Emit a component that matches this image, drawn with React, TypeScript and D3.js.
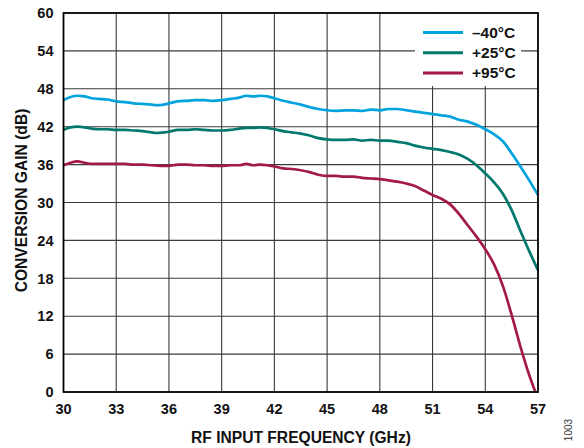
import React from "react";
import * as d3 from "d3";

const xTicks = [30, 33, 36, 39, 42, 45, 48, 51, 54, 57];
const yTicks = [0, 6, 12, 18, 24, 30, 36, 42, 48, 54, 60];

const freqBlue = [30, 30.4, 30.8, 31.2, 31.6, 32, 32.5, 33, 33.5, 34, 34.5, 35, 35.3, 35.7, 36, 36.5, 37, 37.5, 38, 38.5, 39, 39.5, 40, 40.4, 40.8, 41.2, 41.6, 42, 42.5, 43, 43.5, 44, 44.5, 45, 45.5, 46, 46.5, 47, 47.5, 48, 48.5, 49, 49.5, 50, 50.5, 51, 51.5, 52, 52.5, 53, 53.5, 54, 54.5, 55, 55.5, 56, 56.5, 57];
const gainBlue = [46.2, 46.7, 46.9, 46.8, 46.5, 46.4, 46.3, 46.0, 45.9, 45.7, 45.6, 45.5, 45.4, 45.5, 45.7, 46.0, 46.1, 46.2, 46.2, 46.1, 46.2, 46.4, 46.6, 46.9, 46.8, 46.9, 46.8, 46.5, 46.1, 45.8, 45.5, 45.1, 44.8, 44.6, 44.5, 44.6, 44.6, 44.5, 44.7, 44.6, 44.8, 44.8, 44.6, 44.4, 44.2, 44.0, 43.8, 43.6, 43.1, 42.8, 42.3, 41.6, 40.8, 39.7, 37.8, 35.7, 33.5, 31.2];

const freqGreen = [30, 30.4, 30.8, 31.2, 31.6, 32, 32.5, 33, 33.5, 34, 34.5, 35, 35.3, 35.7, 36, 36.5, 37, 37.5, 38, 38.5, 39, 39.5, 40, 40.4, 40.8, 41.2, 41.6, 42, 42.5, 43, 43.5, 44, 44.5, 45, 45.5, 46, 46.5, 47, 47.5, 48, 48.5, 49, 49.5, 50, 50.5, 51, 51.5, 52, 52.5, 53, 53.5, 54, 54.5, 55, 55.5, 56, 56.5, 57];
const gainGreen = [41.5, 41.9, 42.0, 41.9, 41.7, 41.6, 41.6, 41.5, 41.5, 41.4, 41.3, 41.1, 41.0, 41.1, 41.2, 41.5, 41.5, 41.6, 41.5, 41.4, 41.4, 41.5, 41.7, 41.8, 41.8, 41.9, 41.8, 41.6, 41.3, 41.1, 40.9, 40.6, 40.2, 40.0, 39.9, 39.9, 40.0, 39.8, 39.9, 39.8, 39.8, 39.6, 39.4, 39.0, 38.7, 38.5, 38.3, 38.0, 37.6, 36.9, 35.9, 34.6, 33.2, 31.4, 28.8, 25.5, 22.3, 19.3];

const freqRed = [30, 30.4, 30.8, 31.2, 31.6, 32, 32.5, 33, 33.5, 34, 34.5, 35, 35.5, 36, 36.5, 37, 37.5, 38, 38.5, 39, 39.5, 40, 40.4, 40.8, 41.2, 41.6, 42, 42.5, 43, 43.5, 44, 44.5, 45, 45.5, 46, 46.5, 47, 47.5, 48, 48.5, 49, 49.5, 50, 50.5, 51, 51.5, 52, 52.5, 53, 53.5, 54, 54.5, 55, 55.5, 56, 56.5, 56.85];
const gainRed = [35.9, 36.3, 36.5, 36.3, 36.1, 36.1, 36.1, 36.1, 36.1, 36.0, 36.0, 35.9, 35.8, 35.8, 36.0, 36.0, 35.9, 35.9, 35.8, 35.8, 35.9, 35.9, 36.1, 35.9, 36.0, 35.9, 35.7, 35.4, 35.3, 35.1, 34.8, 34.4, 34.2, 34.2, 34.1, 34.1, 33.9, 33.8, 33.7, 33.5, 33.3, 33.0, 32.6, 31.9, 31.2, 30.6, 29.7, 28.2, 26.4, 24.6, 22.6, 20.2, 16.8, 12.2, 7.2, 2.7, 0];

const seriesNames = ["\u201340\u00b0C", "+25\u00b0C", "+95\u00b0C"];
const seriesColors = ["#00a3dd", "#00786d", "#a3194a"];

const W = 584;
const H = 448;
const L = 63.5;
const R = 538;
const T = 13;
const B = 392;

export default function App() {
  const x = d3.scaleLinear().domain([30, 57]).range([L, R]);
  const y = d3.scaleLinear().domain([0, 60]).range([B, T]);
  const line = d3
    .line<[number, number]>()
    .x((d) => x(d[0]))
    .y((d) => y(d[1]))
    .curve(d3.curveMonotoneX);

  const series = [
    d3.zip(freqBlue, gainBlue) as [number, number][],
    d3.zip(freqGreen, gainGreen) as [number, number][],
    d3.zip(freqRed, gainRed) as [number, number][],
  ];

  const font = "'Liberation Sans', Arial, sans-serif";

  return (
    <div style={{ position: "absolute", left: 0, top: 0 }}>
      <svg width={W} height={H} style={{ display: "block", background: "#fff" }}>
        <rect x={0} y={0} width={W} height={H} fill="#fff" />
        {xTicks.slice(1, -1).map((t) => (
          <line key={"gx" + t} x1={x(t)} x2={x(t)} y1={T} y2={B} stroke="#3a3a3a" strokeWidth={1.1} />
        ))}
        {yTicks.slice(1, -1).map((t) => (
          <line key={"gy" + t} x1={L} x2={R} y1={y(t)} y2={y(t)} stroke="#3a3a3a" strokeWidth={1.1} />
        ))}
        <rect x={415} y={T + 1} width={106} height={72} fill="#fff" />
        <defs>
          <clipPath id="plotclip">
            <rect x={L} y={T} width={R - L} height={B - T} />
          </clipPath>
        </defs>
        <g clipPath="url(#plotclip)">
          {series.map((s, i) => (
            <path
              key={"s" + i}
              d={line(s) || ""}
              fill="none"
              stroke={seriesColors[i]}
              strokeWidth={2.7}
              strokeLinejoin="round"
              strokeLinecap="round"
            />
          ))}
        </g>
        <rect x={L} y={T} width={R - L} height={B - T} fill="none" stroke="#000" strokeWidth={1.8} />
        {seriesNames.map((n, i) => (
          <g key={"lg" + i}>
            <line x1={423} x2={463} y1={32.5 + i * 20.2} y2={32.5 + i * 20.2} stroke={seriesColors[i]} strokeWidth={3} />
            <text
              x={472}
              y={32.5 + i * 20.2}
              dy="0.36em"
              fontFamily={font}
              fontWeight="bold"
              fontSize={15.5}
              fill="#111"
            >
              {n}
            </text>
          </g>
        ))}
        {yTicks.map((t) => (
          <text
            key={"yt" + t}
            x={53.5}
            y={y(t)}
            dy="0.36em"
            textAnchor="end"
            fontFamily={font}
            fontWeight="bold"
            fontSize={14.5}
            fill="#111"
          >
            {t}
          </text>
        ))}
        {xTicks.map((t) => (
          <text
            key={"xt" + t}
            x={x(t)}
            y={413.5}
            textAnchor="middle"
            fontFamily={font}
            fontWeight="bold"
            fontSize={14.5}
            fill="#111"
          >
            {t}
          </text>
        ))}
        <text
          x={301}
          y={442.5}
          textAnchor="middle"
          fontFamily={font}
          fontWeight="bold"
          fontSize={15.6}
          fill="#111"
        >
          RF INPUT FREQUENCY (GHz)
        </text>
        <text
          transform={`translate(21,200.5) rotate(-90)`}
          textAnchor="middle"
          dy="0.36em"
          fontFamily={font}
          fontWeight="bold"
          fontSize={15.6}
          fill="#111"
        >
          CONVERSION GAIN (dB)
        </text>
        <text
          transform="translate(568,430) rotate(-90)"
          textAnchor="middle"
          dy="0.36em"
          fontFamily={font}
          fontSize={10}
          fill="#333"
        >
          1003
        </text>
      </svg>
    </div>
  );
}
